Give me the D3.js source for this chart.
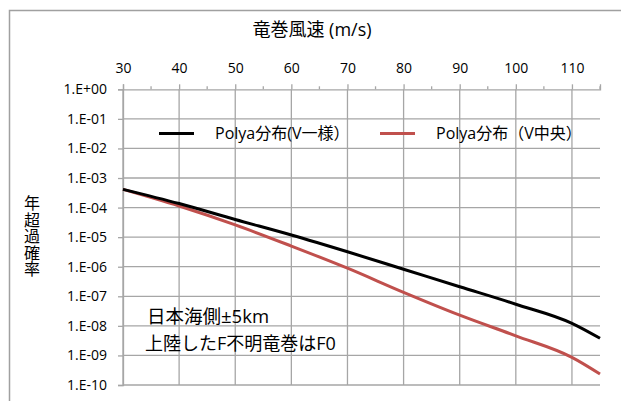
<!DOCTYPE html>
<html><head><meta charset="utf-8">
<script src="https://cdn.jsdelivr.net/npm/d3@7"></script>
<style>
body{margin:0;background:#fff;}
text{font-family:"Open Sans","Noto Sans CJK JP",sans-serif;fill:#000;}
</style></head>
<body>
<svg id="c" width="621" height="401"></svg>
<script>
const speeds = [30, 40, 50, 60, 70, 80, 90, 100, 110, 115];
const uniformV = [4.15e-4, 1.37e-4, 3.95e-5, 1.18e-5, 3.2e-6, 8.2e-7, 2.1e-7, 5.4e-8, 1.22e-8, 3.8e-9];
const centerV  = [4.15e-4, 1.13e-4, 2.6e-5, 5.0e-6, 8.9e-7, 1.36e-7, 2.3e-8, 4.6e-9, 8.6e-10, 2.35e-10];
const xMajor = [30, 40, 50, 60, 70, 80, 90, 100, 110];
const xMinor = [35, 45, 55, 65, 75, 85, 95, 105, 115];
const yTicks = [1e0, 1e-1, 1e-2, 1e-3, 1e-4, 1e-5, 1e-6, 1e-7, 1e-8, 1e-9, 1e-10];
const yTickLabels = ["1.E+00","1.E-01","1.E-02","1.E-03","1.E-04","1.E-05","1.E-06","1.E-07","1.E-08","1.E-09","1.E-10"];
const seriesNames = ["Polya分布(V一様）", "Polya分布（V中央）"];
const seriesColors = ["#000000", "#c0504d"];
const xTitle = "竜巻風速 (m/s)";
const yTitle = "年超過確率";
const notes = ["日本海側±5km", "上陸したF不明竜巻はF0"];

const svg = d3.select("#c");
svg.append("rect").attr("x",9.5).attr("y",10.5).attr("width",640).attr("height",420)
  .attr("fill","none").attr("stroke","#a0a0a0").attr("stroke-width",1.5);

const L=123, R=600, T=89.3, B=385;
const x = d3.scaleLinear().domain([30,115]).range([L,R]);
const y = d3.scaleLog().domain([1e-10,1]).range([B,T]);
const grid = "#a6a6a6";

svg.append("g").selectAll("line").data(yTicks.slice(1)).join("line")
  .attr("x1",L).attr("x2",R).attr("y1",d=>y(d)).attr("y2",d=>y(d))
  .attr("stroke",grid).attr("stroke-width",1.3);
svg.append("g").selectAll("line").data(xMajor).join("line")
  .attr("x1",d=>x(d)).attr("x2",d=>x(d)).attr("y1",T).attr("y2",B)
  .attr("stroke",grid).attr("stroke-width",1.3);

const xAx = svg.append("g").attr("transform",`translate(0,${T})`)
  .call(d3.axisTop(x).tickValues(xMajor).tickSize(5).tickPadding(11).tickFormat(d3.format("d")));
xAx.selectAll(".domain").attr("stroke",grid).attr("stroke-width",1.3);
xAx.selectAll(".tick line").attr("stroke",grid).attr("stroke-width",1.3);
xAx.selectAll("text").attr("font-size",14).attr("fill","#000").attr("font-family",null);
svg.append("g").selectAll("line").data(xMinor).join("line")
  .attr("x1",d=>x(d)).attr("x2",d=>x(d)).attr("y1",T-3).attr("y2",T)
  .attr("stroke",grid).attr("stroke-width",1.3);

const yAx = svg.append("g").attr("transform",`translate(${L},0)`)
  .call(d3.axisLeft(y).tickValues(yTicks).tickSize(5).tickPadding(11)
    .tickFormat((d,i)=>yTickLabels[i]));
yAx.selectAll(".domain").attr("stroke",grid).attr("stroke-width",1.3);
yAx.selectAll(".tick line").attr("stroke",grid).attr("stroke-width",1.3);
yAx.selectAll("text").attr("font-size",14).attr("fill","#000").attr("font-family",null);

const line = d3.line().x(d=>x(d[0])).y(d=>y(d[1])).curve(d3.curveMonotoneX);
const paths = [uniformV, centerV].map((vals,i)=>
  svg.append("path").datum(speeds.map((s,j)=>[s, vals[j]]))
    .attr("d",line).attr("fill","none").attr("stroke",seriesColors[i])
    .attr("stroke-width",3).attr("stroke-linejoin","round"));
paths[0].raise();

svg.append("text").attr("x",312).attr("y",36).attr("text-anchor","middle")
  .attr("font-size",18).text(xTitle);
svg.append("text").attr("x",31).attr("y",195)
  .style("writing-mode","vertical-rl").style("text-orientation","upright")
  .attr("font-size",16).attr("letter-spacing",0.5).text(yTitle);

const lg = [{x1:159,x2:194,tx:215},{x1:380,x2:415,tx:436}];
lg.forEach((p,i)=>{
  svg.append("line").attr("x1",p.x1).attr("x2",p.x2).attr("y1",133.5).attr("y2",133.5)
    .attr("stroke",seriesColors[i]).attr("stroke-width",3);
  svg.append("text").attr("x",p.tx).attr("y",139).attr("font-size",16).text(seriesNames[i]);
});

svg.append("text").attr("x",147).attr("y",323).attr("font-size",18.5).text(notes[0]);
svg.append("text").attr("x",145).attr("y",350).attr("font-size",18).text(notes[1]);
</script>
</body></html>
